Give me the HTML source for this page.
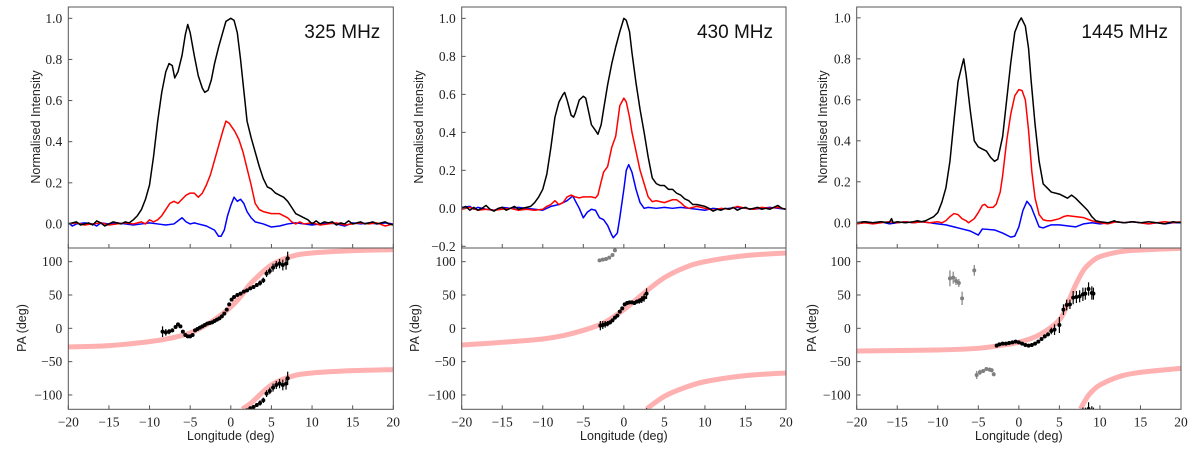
<!DOCTYPE html>
<html><head><meta charset="utf-8">
<style>
html,body{margin:0;padding:0;background:#fff;}
svg{display:block;}
.tl{font-family:"Liberation Serif",serif;font-size:13.5px;fill:#222;}
.al{font-family:"Liberation Sans",sans-serif;font-size:12.5px;fill:#222;}
.fq{font-family:"Liberation Sans",sans-serif;font-size:19px;fill:#111;}
</style></head>
<body>
<svg id="chart" width="1200" height="460" viewBox="0 0 1200 460" xmlns="http://www.w3.org/2000/svg"></svg>
<script>
// ---------- data ----------
const xTicks = [-20,-15,-10,-5,0,5,10,15,20];
const paTicks = [-100,-50,0,50,100];
const freqLabels = ["325 MHz","430 MHz","1445 MHz"];

// Panel 1 (325 MHz)
const p1I = [[-20,0],[-19.5,0.005],[-19,0.01],[-18.5,-0.005],[-18,0],[-17.5,0.005],[-17,-0.005],[-16.5,0.015],[-16,0.005],[-15.5,-0.01],[-15,0],[-14.5,0.01],[-14,0.005],[-13.5,0],[-13,0.01],[-12.5,0.005],[-12,0.02],[-11.5,0.04],[-11,0.07],[-10.5,0.12],[-10,0.19],[-9.5,0.33],[-9,0.5],[-8.5,0.64],[-8,0.74],[-7.6,0.78],[-7.2,0.77],[-6.9,0.71],[-6.5,0.74],[-6,0.82],[-5.6,0.92],[-5.3,0.97],[-5,0.93],[-4.5,0.82],[-4,0.72],[-3.5,0.66],[-3.2,0.64],[-2.8,0.65],[-2.4,0.7],[-2,0.78],[-1.5,0.86],[-1,0.93],[-0.6,0.985],[0,1],[0.4,0.99],[0.8,0.93],[1.2,0.8],[1.6,0.65],[2,0.5],[2.5,0.42],[3,0.35],[3.5,0.28],[4,0.22],[4.5,0.18],[5,0.17],[5.5,0.15],[6,0.14],[6.5,0.13],[7,0.11],[7.5,0.08],[8,0.05],[8.5,0.04],[9,0.03],[9.5,0.02],[10,0],[10.5,0.015],[11,0],[11.5,0.01],[12,0.005],[12.5,0.01],[13,-0.005],[13.5,0.005],[14,0],[14.5,0.015],[15,0],[15.5,0.005],[16,0.01],[16.5,0],[17,0.005],[17.5,0.01],[18,0],[18.5,0.005],[19,0.01],[19.5,0],[20,-0.005]];
const p1L = [[-20,0],[-19,0.005],[-18,-0.005],[-17,0],[-16,0.005],[-15,-0.005],[-14,0],[-13,0.005],[-12,0],[-11,0.01],[-10.5,0],[-10,0.02],[-9.5,0.01],[-9,0.02],[-8.5,0.04],[-8,0.07],[-7.5,0.1],[-7,0.11],[-6.5,0.1],[-6,0.12],[-5.5,0.14],[-5,0.15],[-4.5,0.15],[-4,0.13],[-3.5,0.15],[-3,0.19],[-2.5,0.24],[-2,0.31],[-1.5,0.38],[-1,0.45],[-0.6,0.5],[-0.2,0.49],[0.5,0.45],[1,0.41],[1.5,0.35],[2,0.27],[2.5,0.19],[3,0.1],[3.5,0.07],[4,0.06],[5,0.05],[6,0.05],[7,0.03],[7.5,0.01],[8,0],[8.5,0.01],[9,0],[10,0.005],[11,-0.005],[12,0],[13,0.005],[14,-0.005],[15,0],[16,0.005],[17,0],[18,0.005],[19,-0.01],[20,0]];
const p1V = [[-20,0.005],[-19.5,-0.01],[-19,0],[-18,0.005],[-17,0],[-16.5,-0.01],[-16,0.005],[-15,0],[-14,0.005],[-13,0],[-12,-0.005],[-11,0],[-10,0.005],[-9,0],[-8,-0.005],[-7,0],[-6,0.03],[-5.5,0.01],[-5,0],[-4.5,0.005],[-4,0],[-3,-0.01],[-2,-0.03],[-1.5,-0.06],[-1.2,-0.06],[-0.8,-0.03],[-0.4,0.04],[0,0.09],[0.4,0.13],[0.8,0.11],[1.2,0.12],[1.6,0.1],[2,0.06],[2.5,0.03],[3,0.01],[4,0],[5,-0.015],[6,-0.01],[7,0],[8,0.005],[9,0],[10,-0.005],[11,0],[12,0.005],[13,0],[14,-0.01],[15,0.005],[16,0],[17,0.005],[18,0],[19,0.005],[20,0]];
const p1Lon = [-8.4,-8,-7.6,-7.2,-6.8,-6.5,-6.2,-5.9,-5.6,-5.3,-5,-4.7,-4.4,-4.1,-3.8,-3.5,-3.2,-2.9,-2.6,-2.3,-2,-1.7,-1.4,-1.1,-0.8,-0.5,-0.2,0.1,0.4,0.8,1.2,1.6,2,2.4,2.8,3.2,3.6,4,4.4,4.8,5.2,5.6,6,6.4,6.8,7];
const p1PA  = [-5,-6,-5,-3,2,6,3,-5,-10,-12,-12,-10,-3,-1,1,3,5,7,8,9,11,13,15,18,22,28,36,43,47,50,52,55,57,60,62,65,68,72,82,86,91,95,97,95,97,105];
const p1Err = [8,5,4,3,2,2,2,2,2,2,2,2,2,2,2,2,2,2,2,2,2,2,2,2,2,2,2,2,2,2,2,2,2,2,3,3,4,4,5,5,6,6,7,8,9,10];
const p1FitLon = [-20,-15,-10,-7.5,-5,-2.5,0,1.5,2.5,5,7.5,10,15,20];
const p1FitPA  = [-28,-26,-20,-15,-7,9,32,52,68,95,108,113,116.5,118];
const p1Fit2Lon = [1.4,2.5,5,7.5,10,15,20];
const p1Fit2PA  = [-121,-112,-85,-72,-67,-63.5,-62];

// Panel 2 (430 MHz)
const p2I = [[-20,0],[-19.5,0.01],[-19,-0.01],[-18.5,0.005],[-18,-0.01],[-17.5,0],[-17,0.015],[-16.5,-0.005],[-16,-0.015],[-15.5,0],[-15,0.005],[-14.5,-0.01],[-14,0],[-13.5,0.01],[-13,-0.005],[-12.5,0],[-12,0.005],[-11.5,0.01],[-11,0.03],[-10.5,0.06],[-10,0.1],[-9.5,0.18],[-9,0.32],[-8.5,0.48],[-8,0.56],[-7.5,0.6],[-7.3,0.61],[-7,0.57],[-6.5,0.49],[-6.2,0.48],[-6,0.5],[-5.5,0.57],[-5,0.59],[-4.7,0.58],[-4.3,0.5],[-4,0.44],[-3.5,0.41],[-3.2,0.39],[-2.8,0.44],[-2.5,0.52],[-2,0.65],[-1.5,0.76],[-1,0.85],[-0.5,0.93],[0,1],[0.3,0.99],[0.7,0.93],[1,0.82],[1.5,0.66],[2,0.52],[2.5,0.4],[3,0.27],[3.5,0.16],[4,0.13],[4.5,0.12],[5,0.12],[5.5,0.1],[6,0.1],[6.5,0.08],[7,0.07],[7.5,0.05],[8,0.04],[8.5,0.02],[9,0.02],[10,0.01],[10.5,0],[11,-0.015],[11.5,-0.005],[12,-0.01],[12.5,0],[13,-0.005],[13.5,0.005],[14,-0.01],[14.5,0],[15,0.005],[15.5,-0.005],[16,0],[16.5,0.005],[17,-0.005],[17.5,0],[18,-0.005],[18.5,0.005],[19,0.015],[19.5,0],[20,-0.005]];
const p2L = [[-20,-0.005],[-19,0.005],[-18,-0.01],[-17,-0.005],[-16,-0.01],[-15,-0.005],[-14,0],[-13,-0.01],[-12,-0.005],[-11,-0.01],[-10,-0.005],[-9.5,0.01],[-9,0.02],[-8.5,0.04],[-8,0.02],[-7.5,0.03],[-7,0.06],[-6.5,0.07],[-6,0.06],[-5.5,0.055],[-5,0.06],[-4,0.06],[-3.5,0.055],[-3.2,0.07],[-2.8,0.14],[-2.5,0.19],[-2,0.22],[-1.5,0.32],[-1,0.38],[-0.5,0.54],[0,0.58],[0.3,0.56],[0.7,0.48],[1,0.4],[1.5,0.3],[2,0.2],[2.5,0.13],[3,0.06],[3.5,0.035],[4,0.04],[5,0.03],[6,0.045],[6.5,0.045],[7,0.03],[7.5,0.01],[8,0],[9,0.01],[10,0],[11,-0.01],[12,0],[13,-0.005],[14,0.01],[15,0],[16,-0.005],[17,0.005],[18,0],[19,0.005],[20,-0.005]];
const p2V = [[-20,0.005],[-19,0.01],[-18.5,-0.005],[-18,0.005],[-17,-0.005],[-16,-0.01],[-15,0.005],[-14,0],[-13,0.005],[-12,0],[-11,-0.005],[-10,-0.01],[-9,0.01],[-8,0.02],[-7,0.04],[-6.3,0.065],[-6,0.04],[-5.5,0],[-5,-0.05],[-4.5,-0.02],[-4,-0.005],[-3.5,-0.01],[-3,-0.05],[-2.5,-0.06],[-2,-0.09],[-1.5,-0.14],[-1.3,-0.155],[-0.8,-0.13],[-0.5,-0.05],[0,0.1],[0.3,0.2],[0.6,0.23],[1,0.19],[1.5,0.1],[2,0.03],[2.5,0],[3,0.005],[4,0],[5,0.005],[6,0],[7,0.005],[8,0],[9,-0.005],[10,-0.01],[11,0],[12,-0.005],[13,0],[14,0.005],[15,0],[16,-0.005],[17,0],[18,0.005],[19,0],[20,-0.005]];
const p2Lon = [-2.9,-2.6,-2.3,-2,-1.7,-1.4,-1.1,-0.8,-0.5,-0.2,0.1,0.4,0.7,1,1.3,1.6,1.9,2.2,2.5,2.8];
const p2PA  = [4,5,6,7,9,12,16,19,25,30,36,38,39,39,38,40,41,43,46,52];
const p2Err = [7,6,5,4,3,2,2,2,2,2,2,2,2,2,3,3,4,5,6,8];
const p2GreyLon = [-3,-2.6,-2.2,-1.8,-1.4,-1.1];
const p2GreyPA  = [102,103,104,106,110,117];
const p2GreyErr = [1,1,1,1,1,1];
const p2FitLon = [-20,-15,-10,-7.5,-5,-2.5,0,2.5,5,7.5,10,15,20];
const p2FitPA  = [-25,-21,-16,-11,-3,8,28,53,76,91,100,109,113];
const p2Fit2Lon = [2.8,5,7.5,10,15,20];
const p2Fit2PA  = [-121,-102,-89,-80,-71,-67];

// Panel 3 (1445 MHz)
const p3I = [[-20,0],[-19,0.005],[-18,0],[-17,0.005],[-16,0],[-15.7,0.02],[-15.5,0],[-15,0.005],[-14,0],[-13,0.005],[-12.5,0.01],[-12,0.005],[-11.5,0.01],[-11,0.02],[-10.5,0.03],[-10,0.05],[-9.5,0.1],[-9,0.17],[-8.5,0.3],[-8,0.5],[-7.5,0.69],[-7,0.77],[-6.8,0.8],[-6.5,0.72],[-6,0.55],[-5.5,0.4],[-5,0.37],[-4.5,0.36],[-4,0.35],[-3.5,0.32],[-3,0.3],[-2.6,0.31],[-2,0.42],[-1.5,0.6],[-1,0.78],[-0.5,0.93],[0,0.98],[0.3,1],[0.8,0.96],[1.2,0.85],[1.5,0.7],[2,0.48],[2.5,0.3],[3,0.19],[3.5,0.17],[4,0.15],[5,0.14],[6,0.12],[6.5,0.135],[7,0.12],[7.5,0.1],[8,0.08],[8.5,0.06],[9,0.03],[9.5,0.01],[10,0.005],[11,0],[11.8,0.01],[12,0.005],[13,0],[14,0.005],[15,0],[16,0.005],[17,0],[18,-0.005],[19,0.005],[20,0]];
const p3L = [[-20,-0.005],[-19,0],[-18,-0.005],[-17,0],[-16,0.005],[-15,0],[-14,0.005],[-13,0],[-12,0.005],[-11,0],[-10,0.005],[-9.5,0],[-9,0.01],[-8.5,0.03],[-8,0.045],[-7.5,0.04],[-7,0.02],[-6.5,0.01],[-6.2,0],[-5.5,0.02],[-5,0.05],[-4.5,0.085],[-4.2,0.09],[-3.8,0.075],[-3.2,0.075],[-2.8,0.09],[-2.3,0.15],[-2,0.23],[-1.5,0.4],[-1,0.53],[-0.5,0.62],[0,0.65],[0.4,0.645],[0.8,0.6],[1.2,0.45],[1.6,0.25],[2,0.12],[2.5,0.04],[3,0.015],[3.5,0.01],[4,0.01],[5,0.02],[5.5,0.03],[6,0.035],[7,0.03],[8,0.025],[9,0.01],[10,0],[11,-0.005],[12,0.005],[13,0],[14,0.005],[15,0],[16,-0.005],[17,0],[18,0.005],[19,0],[20,0.005]];
const p3V = [[-20,0],[-19,0.005],[-18,0],[-17,0.005],[-16,-0.005],[-15,0],[-14,0.005],[-13,0],[-12,0.005],[-11,0],[-10,-0.005],[-9,-0.01],[-8,-0.02],[-7,-0.03],[-6,-0.04],[-5,-0.06],[-4.5,-0.03],[-3,-0.035],[-2,-0.05],[-1,-0.07],[-0.5,-0.065],[0,-0.02],[0.5,0.06],[1,0.105],[1.5,0.08],[2,0.03],[2.5,-0.02],[3,-0.025],[3.3,-0.02],[4,-0.01],[5,-0.01],[6,-0.015],[7,-0.02],[8,-0.005],[9,0],[10,-0.005],[11,0],[12,0.005],[13,0],[14,0.005],[15,0],[16,-0.005],[17,0],[18,-0.005],[19,0],[20,0]];
const p3Lon = [-2.74,-2.4,-2,-1.6,-1.2,-0.8,-0.4,0,0.4,0.8,1.2,1.6,2,2.4,2.8,3.2,3.6,4,4.4,5,5.5,5.9,6.3,6.7,7.1,7.5,7.9,8.2,8.6,9,9.2];
const p3PA  = [-26,-24,-23,-23,-22,-21,-20,-21,-23,-25,-26,-25,-23,-20,-16,-12,-9,-4,-2,5,28,35,36,46,47,48,51,52,59,53,52];
const p3Err = [2,2,2,2,2,2,2,2,2,2,2,2,2,2,2,3,3,5,8,12,8,8,7,10,9,9,10,9,10,10,9];
const p3GreyLon = [-8.5,-8.1,-7.75,-7.4,-7,-5.5,-5.2,-4.8,-4.4,-4,-3.6,-3.35,-3.1];
const p3GreyPA  = [75,76,71,68,45,87,-70,-66,-64,-61,-62,-63,-69];
const p3GreyErr = [12,9,6,6,10,8,6,4,3,2,3,3,3];
const p3FitLon = [-20,-10,-5,-2.5,0,2.5,5,6,7,8,9,10,12.5,15,20];
const p3FitPA  = [-34,-32.5,-30,-26,-21,-10,12.5,37,65,87.5,100,107.5,115,117.5,120];
const p3Fit2Lon = [7.6,8,8.5,9,10,12.5,15,20];
const p3Fit2PA  = [-121,-112,-102,-95,-85,-72,-66,-60];

// ---------- drawing ----------
const NS = "http://www.w3.org/2000/svg";
const svg = document.getElementById("chart");
function el(tag, attrs, parent){
  const e = document.createElementNS(NS, tag);
  for (const k in attrs) e.setAttribute(k, attrs[k]);
  (parent||svg).appendChild(e);
  return e;
}
function fmt(v, dec){ const s = Math.abs(v).toFixed(dec); return (v<0?"\u2212":"") + s; }
function smoothPath(pts){
  let d = "M" + pts[0][0].toFixed(2) + "," + pts[0][1].toFixed(2);
  for (let i=0;i<pts.length-1;i++){
    const p0 = pts[Math.max(0,i-1)], p1 = pts[i], p2 = pts[i+1], p3 = pts[Math.min(pts.length-1,i+2)];
    const c1x = p1[0]+(p2[0]-p0[0])/6, c1y = p1[1]+(p2[1]-p0[1])/6;
    const c2x = p2[0]-(p3[0]-p1[0])/6, c2y = p2[1]-(p3[1]-p1[1])/6;
    d += " C"+c1x.toFixed(2)+","+c1y.toFixed(2)+" "+c2x.toFixed(2)+","+c2y.toFixed(2)+" "+p2[0].toFixed(2)+","+p2[1].toFixed(2);
  }
  return d;
}

const panels = [
  {left:68.3,right:393.3,iMin:-0.117,iMax:1.055,iTicks:[0,0.2,0.4,0.6,0.8,1.0],I:p1I,L:p1L,V:p1V,lon:p1Lon,pa:p1PA,err:p1Err,gLon:[],gPa:[],gErr:[],fLon:p1FitLon,fPa:p1FitPA,f2Lon:p1Fit2Lon,f2Pa:p1Fit2PA,ilabX:36,palX:22},
  {left:461.7,right:786,iMin:-0.209,iMax:1.06,iTicks:[-0.2,0,0.2,0.4,0.6,0.8,1.0],I:p2I,L:p2L,V:p2V,lon:p2Lon,pa:p2PA,err:p2Err,gLon:p2GreyLon,gPa:p2GreyPA,gErr:p2GreyErr,fLon:p2FitLon,fPa:p2FitPA,f2Lon:p2Fit2Lon,f2Pa:p2Fit2PA,ilabX:419,palX:415},
  {left:856.7,right:1181,iMin:-0.123,iMax:1.053,iTicks:[0,0.2,0.4,0.6,0.8,1.0],I:p3I,L:p3L,V:p3V,lon:p3Lon,pa:p3PA,err:p3Err,gLon:p3GreyLon,gPa:p3GreyPA,gErr:p3GreyErr,fLon:p3FitLon,fPa:p3FitPA,f2Lon:p3Fit2Lon,f2Pa:p3Fit2PA,ilabX:823,palX:812}
];
const TOP=7, MID=248, BOT=409.3, PAMIN=-121.5, PAMAX=120.5;

panels.forEach((p, idx) => {
  const g = el("g", {});
  
  
  const xs = v => p.left + (v+20)/40*(p.right-p.left);
  const yI = v => MID - (v-p.iMin)/(p.iMax-p.iMin)*(MID-TOP);
  const yP = v => BOT - (v-PAMIN)/(PAMAX-PAMIN)*(BOT-MID);
  const W = p.right-p.left;

  const defs = el("defs", {}, g);
  const c1 = el("clipPath", {id:"ct"+idx}, defs);
  el("rect", {x:p.left, y:TOP, width:W, height:MID-TOP}, c1);
  const c2 = el("clipPath", {id:"cb"+idx}, defs);
  el("rect", {x:p.left, y:MID, width:W, height:BOT-MID}, c2);

  // ---- top plot ----
  const top = el("g", {"clip-path":"url(#ct"+idx+")"}, g);
  [["V","#0000ff","stokes-v-line"],["L","#ff0000","linear-pol-line"],["I","#000000","total-intensity-line"]].forEach(([k,col,name])=>{
    const pts = p[k].map(d => xs(d[0]).toFixed(2)+","+yI(d[1]).toFixed(2)).join(" ");
    const pl = el("polyline", {points:pts, fill:"none", stroke:col, "stroke-width":1.5, "stroke-linejoin":"round"}, top);
    
    
  });

  // ---- bottom plot ----
  const bot = el("g", {"clip-path":"url(#cb"+idx+")"}, g);
  [[p.fLon,p.fPa,"rvm-fit-curve"],[p.f2Lon,p.f2Pa,"rvm-fit-curve-lower"]].forEach(([lx,ly,name])=>{
    const pts = lx.map((v,i)=> [xs(v), yP(ly[i])]);
    const pl = el("path", {d:smoothPath(pts), fill:"none", stroke:"#ffb0b0", "stroke-width":5}, bot);
    
    
  });
  function drawPts(lon, pa, err, col, name, mirror){
    lon.forEach((v,i)=>{
      (mirror ? [0,-180] : [0]).forEach(off=>{
        const val = pa[i]+off;
        if (val+err[i] < PAMIN-5 || val-err[i] > PAMAX+5) return;
        const x = xs(v);
        const ln = el("line", {x1:x, x2:x, y1:yP(val-err[i]), y2:yP(val+err[i]), stroke:col, "stroke-width":1.2}, bot);
        
        
        const c = el("circle", {cx:x, cy:yP(val), r:2, fill:col}, bot);
        
        
      });
    });
  }
  drawPts(p.gLon, p.gPa, p.gErr, "#808080", "pa-grey", false);
  drawPts(p.lon, p.pa, p.err, "#000000", "pa", true);

  // ---- frames ----
  const f1 = el("rect", {x:p.left, y:TOP, width:W, height:MID-TOP, fill:"none", stroke:"#555", "stroke-width":1}, g);
  
  
  const f2 = el("rect", {x:p.left, y:MID, width:W, height:BOT-MID, fill:"none", stroke:"#555", "stroke-width":1}, g);
  
  

  xTicks.forEach(t=>{
    const x = xs(t);
    el("line", {x1:x,x2:x,y1:MID,y2:MID-4,stroke:"#555","stroke-width":1}, g);
    el("line", {x1:x,x2:x,y1:BOT,y2:BOT-4,stroke:"#555","stroke-width":1}, g);
    const tx = el("text", {x:x, y:BOT+17, "text-anchor":"middle", class:"tl", "font-family":"Liberation Serif, serif"}, g);
    tx.textContent = fmt(t,0);
    
    
  });
  p.iTicks.forEach(t=>{
    const y = yI(t);
    el("line", {x1:p.left,x2:p.left+4,y1:y,y2:y,stroke:"#555","stroke-width":1}, g);
    const tx = el("text", {x:p.left-6, y:y+4.5, "text-anchor":"end", class:"tl", "font-family":"Liberation Serif, serif"}, g);
    tx.textContent = fmt(t,1);
    
    
  });
  paTicks.forEach(t=>{
    const y = yP(t);
    el("line", {x1:p.left,x2:p.left+4,y1:y,y2:y,stroke:"#555","stroke-width":1}, g);
    const tx = el("text", {x:p.left-6, y:y+4.5, "text-anchor":"end", class:"tl", "font-family":"Liberation Serif, serif"}, g);
    tx.textContent = fmt(t,0);
    
    
  });

  const xl = el("text", {x:(p.left+p.right)/2, y:440, "text-anchor":"middle", class:"al"}, g);
  xl.textContent = "Longitude (deg)";
  
  
  const il = el("text", {x:0, y:0, "text-anchor":"middle", class:"al", transform:"translate("+(p.ilabX+4)+",127) rotate(-90)"}, g);
  il.textContent = "Normalised Intensity";
  
  
  const pl = el("text", {x:0, y:0, "text-anchor":"middle", class:"al", transform:"translate("+(p.palX+4)+",328) rotate(-90)"}, g);
  pl.textContent = "PA (deg)";
  
  
  const fq = el("text", {x:p.right-13, y:38, "text-anchor":"end", class:"fq"}, g);
  fq.textContent = freqLabels[idx];
  
  
});
</script>
</body></html>
